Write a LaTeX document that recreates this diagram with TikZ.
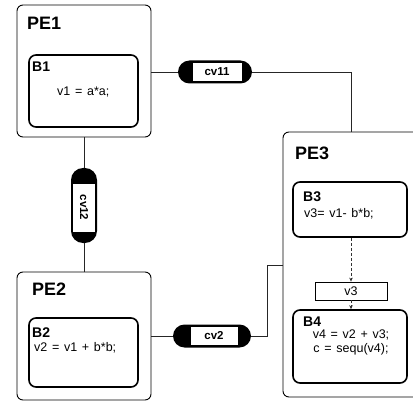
\documentclass[tikz,border=0pt]{standalone}
\usepackage{fontspec}
\setmainfont{Liberation Sans}
\newfontfamily\codefont[WordSpace=1.35]{Liberation Sans}
\usetikzlibrary{arrows.meta}
\begin{document}
\begin{tikzpicture}[x=1pt,y=-1pt,
  pe/.style={draw, line width=0.9pt, rounded corners=6pt, inner sep=0pt},
  blk/.style={draw, line width=1.6pt, rounded corners=7pt, inner sep=0pt},
  wire/.style={line width=0.7pt, black!85},
  flow/.style={line width=0.6pt, black!80, densely dashed, -{Stealth[length=4pt,width=3.5pt]}},
  capsule/.style={fill=black, rounded corners=#1, inner sep=0pt},
  capin/.style={draw, fill=white, line width=0.8pt, inner sep=0pt, font=\bfseries\fontsize{11.5}{11.5}\selectfont},
  pelab/.style={anchor=base west, inner sep=0pt, font=\bfseries\fontsize{18}{18}\selectfont},
  blab/.style={anchor=base west, inner sep=0pt, font=\bfseries\fontsize{14}{14}\selectfont},
  code/.style={anchor=base west, inner sep=0pt, font=\codefont\fontsize{12.5}{14}\selectfont},
]
\useasboundingbox (0,0) rectangle (413,404);

% processing elements
\node[pe, minimum width=134pt, minimum height=132pt] (pe1) at (84,71) {};
\node[pe, minimum width=134pt, minimum height=128pt] (pe2) at (84,336) {};
\node[pe, minimum width=147pt, minimum height=265pt] (pe3) at (356.5,264.5) {};

% blocks
\node[blk, minimum width=109pt, minimum height=72pt] (b1) at (83.5,91) {};
\node[blk, minimum width=109pt, minimum height=69pt] (b2) at (83.5,352.5) {};
\node[blk, minimum width=114pt, minimum height=55pt] (b3) at (350,209.5) {};
\node[blk, minimum width=114pt, minimum height=73pt] (b4) at (350,346.5) {};
\node[draw, line width=0.8pt, inner sep=0pt, minimum width=72pt, minimum height=18pt,
      font=\codefont\fontsize{12.5}{12.5}\selectfont] (v3) at (351,291) {v3};

% labels
\node[pelab] (pe1l) at (27,30) {PE1};
\node[pelab] (pe2l) at (32,295) {PE2};
\node[pelab] (pe3l) at (295,160) {PE3};
\node[blab] (b1l) at (32,72) {B1};
\node[blab] (b2l) at (32,337) {B2};
\node[blab] (b3l) at (303,201) {B3};
\node[blab] (b4l) at (303,326) {B4};
\node[code] (c1) at (57,96) {v1 = a*a;};
\node[code] (c2) at (34,351) {v2 = v1 + b*b;};
\node[code] (c3) at (304,217) {v3= v1- b*b;};
\node[anchor=north, inner sep=0pt, align=center, font=\codefont\fontsize{12.5}{13.5}\selectfont] (c4) at (351,330) {v4 = v2 + v3;\\c = sequ(v4);};

% channels
\node[capsule=11.5pt, minimum width=74pt, minimum height=23pt] (cv11) at (215,72) {};
\node[capin, minimum width=50pt, minimum height=19pt] (cv11t) at (217,71.5) {cv11};
\node[capsule=12pt, minimum width=26pt, minimum height=75pt] (cv12) at (84,205.5) {};
\node[capin, minimum width=23pt, minimum height=49pt] (cv12t) at (84,207.5) {\rotatebox{-90}{cv12}};
\node[capsule=11.5pt, minimum width=78pt, minimum height=23pt] (cv2) at (212,336) {};
\node[capin, minimum width=48pt, minimum height=19pt] (cv2t) at (214,336) {cv2};

% connectors
\coordinate (k1) at (351,72);
\coordinate (k2) at (267,265);
\draw[wire] (pe1.east |- cv11.west) -- (cv11.west);
\draw[wire] (cv11.east) -- (k1) -- (k1 |- pe3.north);
\draw[wire] (pe1.south -| cv12.north) -- (cv12.north);
\draw[wire] (cv12.south) -- (cv12.south |- pe2.north);
\draw[wire] (pe2.east |- cv2.west) -- (cv2.west);
\draw[wire] (cv2.east) -| (k2) -- (k2 -| pe3.west);
\draw[flow] (v3.north |- b3.south) -- (v3.north);
\draw[flow] (v3.south) -- (v3.south |- b4.north);
\end{tikzpicture}
\end{document}
